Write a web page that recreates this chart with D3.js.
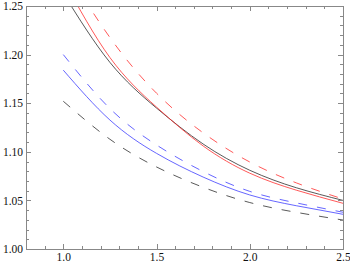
<!DOCTYPE html>
<html><head><meta charset="utf-8">
<script src="https://cdn.jsdelivr.net/npm/d3@7"></script>
<style>
html,body{margin:0;padding:0;background:#fff;}
</style>
</head><body>
<svg id="chart" width="350" height="267"></svg>
<script>
const xs = [1.0, 1.25, 1.5, 1.75, 2.0, 2.25, 2.5];
const blackSolid  = [1.263, 1.192, 1.145, 1.108, 1.081, 1.063, 1.050];
const redSolid    = [1.277, 1.197, 1.146, 1.106, 1.078, 1.0605, 1.047];
const redDashed   = [1.292, 1.2176, 1.1603, 1.1195, 1.0895, 1.068, 1.0514];
const blueDashed  = [1.200, 1.1445, 1.107, 1.0797, 1.0593, 1.0474, 1.0378];
const blueSolid   = [1.184, 1.1327, 1.0984, 1.074, 1.0556, 1.0445, 1.0357];
const blackDashed = [1.152, 1.1129, 1.0844, 1.0635, 1.0478, 1.0377, 1.0298];
const xTicks = [1.0, 1.5, 2.0, 2.5];
const yTicks = [1.00, 1.05, 1.10, 1.15, 1.20, 1.25];

const series = [
  {v: blackSolid,  c: "#222", d: null},
  {v: redSolid,    c: "#f22", d: null},
  {v: redDashed,   c: "#f22", d: "9,10"},
  {v: blueDashed,  c: "#33f", d: "9,10"},
  {v: blueSolid,   c: "#33f", d: null},
  {v: blackDashed, c: "#222", d: "9,10"}
];

const L = 26, R = 343, T = 6, B = 249;
const svg = d3.select("#chart");
const x = d3.scaleLinear().domain([0.8, 2.5]).range([L, R]);
const y = d3.scaleLinear().domain([1.0, 1.25]).range([B, T]);

svg.append("defs").append("clipPath").attr("id","clip")
  .append("rect").attr("x",L).attr("y",T).attr("width",R-L).attr("height",B-T);

const line = d3.line().x((d,i)=>x(xs[i])).y(d=>y(d)).curve(d3.curveNatural);
const g = svg.append("g").attr("clip-path","url(#clip)");
series.forEach(s=>{
  g.append("path").datum(s.v).attr("d",line)
    .attr("fill","none").attr("stroke",s.c).attr("stroke-width",0.75)
    .attr("stroke-dasharray",s.d);
});

const xMinor = d3.range(0.8, 2.5001, 0.1).map(v=>+v.toFixed(2)).filter(v=>!xTicks.some(t=>Math.abs(t-v)<1e-6));
const yMinor = d3.range(1.0, 1.2501, 0.01).map(v=>+v.toFixed(3)).filter(v=>!yTicks.some(t=>Math.abs(t-v)<1e-6));

function styleAxis(sel){
  sel.select(".domain").remove();
  sel.attr("font-family","'Liberation Serif', 'Times New Roman', serif").attr("font-size",11.5);
  sel.selectAll(".tick line").attr("stroke","#888").attr("shape-rendering","crispEdges");
  sel.selectAll(".tick text").attr("fill","#111");
}
// bottom
svg.append("g").attr("transform",`translate(0,${B})`)
  .call(d3.axisBottom(x).tickValues(xTicks).tickSize(-5).tickPadding(4).tickFormat(d3.format(".1f"))).call(styleAxis);
svg.append("g").attr("transform",`translate(0,${B})`)
  .call(d3.axisBottom(x).tickValues(xMinor).tickSize(-3).tickFormat("")).call(styleAxis);
// top
svg.append("g").attr("transform",`translate(0,${T})`)
  .call(d3.axisTop(x).tickValues(xTicks).tickSize(-5).tickFormat("")).call(styleAxis);
svg.append("g").attr("transform",`translate(0,${T})`)
  .call(d3.axisTop(x).tickValues(xMinor).tickSize(-3).tickFormat("")).call(styleAxis);
// left
svg.append("g").attr("transform",`translate(${L},0)`)
  .call(d3.axisLeft(y).tickValues(yTicks).tickSize(-5).tickPadding(3).tickFormat(d3.format(".2f"))).call(styleAxis);
svg.append("g").attr("transform",`translate(${L},0)`)
  .call(d3.axisLeft(y).tickValues(yMinor).tickSize(-3).tickFormat("")).call(styleAxis);
// right
svg.append("g").attr("transform",`translate(${R},0)`)
  .call(d3.axisRight(y).tickValues(yTicks).tickSize(-5).tickFormat("")).call(styleAxis);
svg.append("g").attr("transform",`translate(${R},0)`)
  .call(d3.axisRight(y).tickValues(yMinor).tickSize(-3).tickFormat("")).call(styleAxis);

svg.append("rect").attr("x",L).attr("y",T).attr("width",R-L).attr("height",B-T)
  .attr("fill","none").attr("stroke","#888").attr("stroke-width",1).attr("shape-rendering","crispEdges");
</script>
</body></html>
